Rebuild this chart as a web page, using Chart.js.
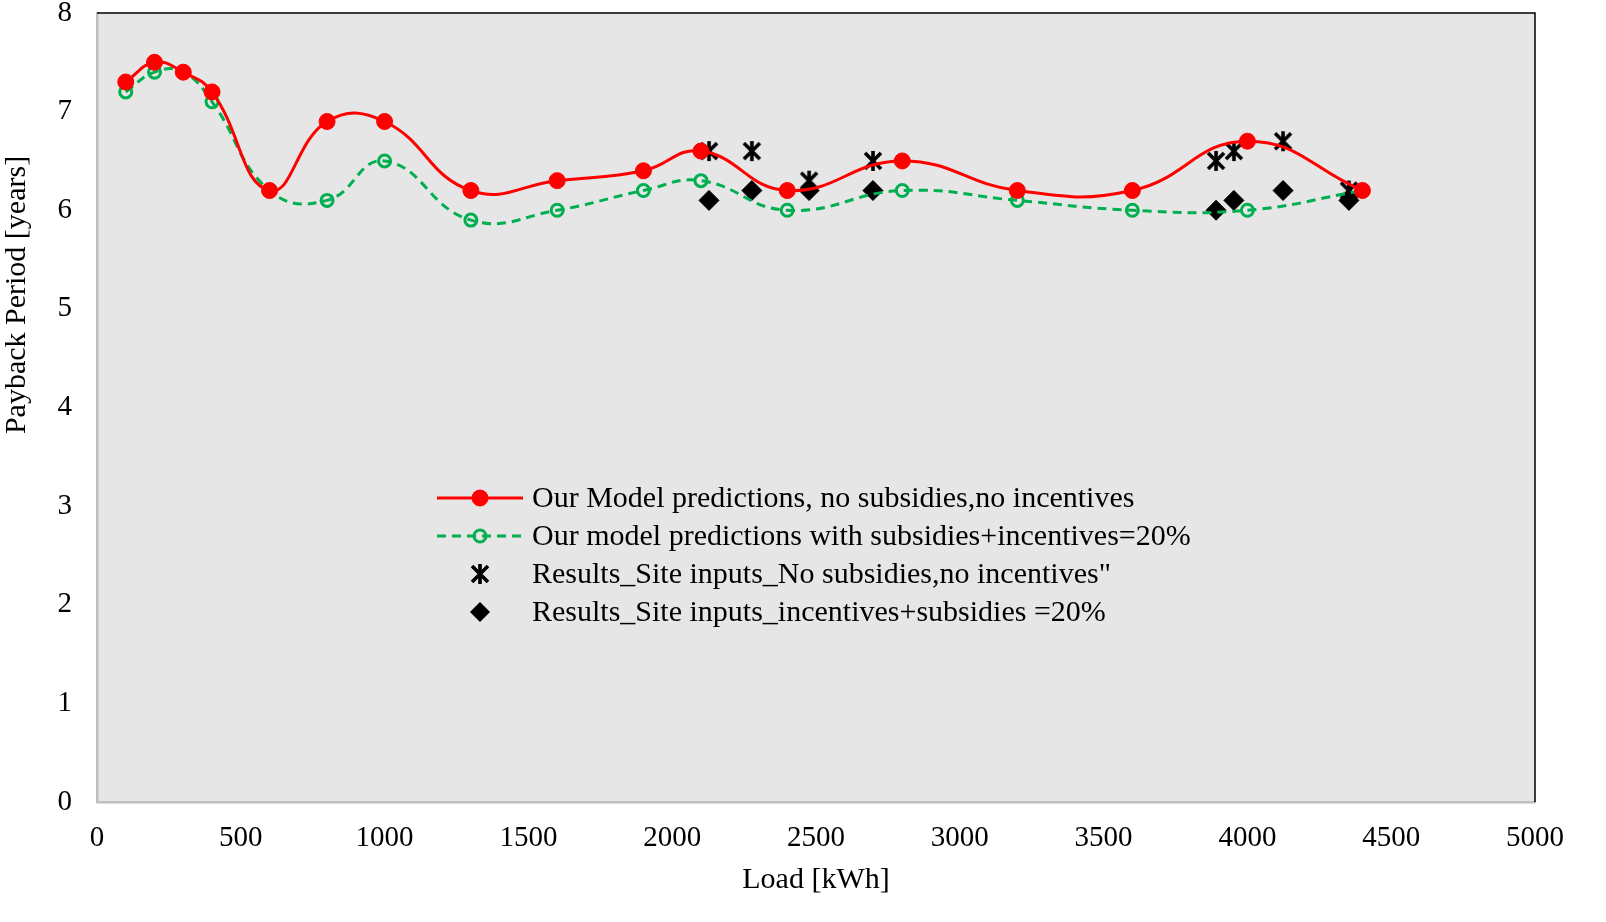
<!DOCTYPE html>
<html>
<head>
<meta charset="utf-8">
<script src="https://cdn.jsdelivr.net/npm/chart.js@4/dist/chart.umd.min.js"></script>
<style>
  html, body { margin: 0; background: #fff; }
  #wrap { width: 1606px; height: 922px; }
</style>
</head>
<body>
<div id="wrap"><canvas id="payback"></canvas></div>
<script>
// Model curve loads and payback values
const modelLoads = [100, 200, 300, 400, 600, 800, 1000, 1300, 1600, 1900, 2100, 2400, 2800, 3200, 3600, 4000, 4400];
const modelNoSubsidy = [7.3, 7.5, 7.4, 7.2, 6.2, 6.9, 6.9, 6.2, 6.3, 6.4, 6.6, 6.2, 6.5, 6.2, 6.2, 6.7, 6.2];
const modelWithSubsidy = [7.2, 7.4, 7.4, 7.1, 6.2, 6.1, 6.5, 5.9, 6.0, 6.2, 6.3, 6.0, 6.2, 6.1, 6.0, 6.0, 6.2];

// Site results
const siteLoads = [2128, 2277, 2476, 2698, 3891, 3953, 4124, 4353];
const siteNoSubsidy = [6.6, 6.6, 6.3, 6.5, 6.5, 6.6, 6.7, 6.2];
const siteWithSubsidy = [6.1, 6.2, 6.2, 6.2, 6.0, 6.1, 6.2, 6.1];

const legendLabels = [
  "Our Model predictions, no subsidies,no incentives",
  "Our model predictions with subsidies+incentives=20%",
  "Results_Site inputs_No subsidies,no incentives\"",
  "Results_Site inputs_incentives+subsidies =20%",
];
const yTitle = "Payback Period [years]";

const FONT = "'Liberation Serif', 'Times New Roman', serif";

function toXY(xs, ys) {
  return xs.map((x, i) => ({ x: x, y: ys[i] }));
}

// asterisk marker: X with a vertical bar
function asteriskMarker(size) {
  const c = document.createElement("canvas");
  c.width = size;
  c.height = size;
  const g = c.getContext("2d");
  g.strokeStyle = "#000";
  g.lineWidth = 3.6;
  const p = 3, m = size / 2;
  g.beginPath();
  g.moveTo(p, p); g.lineTo(size - p, size - p);
  g.moveTo(size - p, p); g.lineTo(p, size - p);
  g.moveTo(m, 1); g.lineTo(m, size - 1);
  g.stroke();
  return c;
}
const asterisk = asteriskMarker(22);

// plot area fill + top/right frame + y title (sits above centre, like Excel)
const plotFrame = {
  id: "plotFrame",
  beforeDraw(chart) {
    const { ctx, chartArea: a } = chart;
    ctx.save();
    ctx.fillStyle = "#e6e6e6";
    ctx.fillRect(a.left, a.top, a.right - a.left, a.bottom - a.top);
    ctx.restore();
  },
  afterDraw(chart) {
    const { ctx, chartArea: a } = chart;
    ctx.save();
    ctx.strokeStyle = "#000";
    ctx.lineWidth = 1.5;
    ctx.beginPath();
    ctx.moveTo(a.left, a.top);
    ctx.lineTo(a.right, a.top);
    ctx.lineTo(a.right, a.bottom);
    ctx.stroke();

    ctx.translate(17, a.top + 282);
    ctx.rotate(-Math.PI / 2);
    ctx.fillStyle = "#000";
    ctx.font = "30px " + FONT;
    ctx.textAlign = "center";
    ctx.textBaseline = "middle";
    ctx.fillText(yTitle, 0, 0);
    ctx.restore();
  },
};

// legend drawn inside the plot, Excel-like
const innerLegend = {
  id: "innerLegend",
  afterDatasetsDraw(chart) {
    const { ctx, chartArea: a } = chart;
    const x0 = a.left + 340, y0 = a.top + 485, rowH = 38;
    ctx.save();
    chart.data.datasets.forEach((ds, i) => {
      const y = y0 + i * rowH;
      const mx = x0 + 43;
      if (ds.showLine) {
        ctx.strokeStyle = ds.borderColor;
        ctx.lineWidth = ds.borderWidth;
        ctx.setLineDash(ds.borderDash || []);
        ctx.beginPath();
        ctx.moveTo(x0, y);
        ctx.lineTo(x0 + 86, y);
        ctx.stroke();
        ctx.setLineDash([]);
      }
      if (ds.pointStyle === "circle") {
        ctx.beginPath();
        ctx.arc(mx, y, ds.pointRadius, 0, Math.PI * 2);
        if (ds.pointBackgroundColor !== "transparent") {
          ctx.fillStyle = ds.pointBackgroundColor;
          ctx.fill();
        }
        ctx.lineWidth = ds.pointBorderWidth;
        ctx.strokeStyle = ds.pointBorderColor;
        ctx.stroke();
      } else if (ds.pointStyle === "rectRot") {
        const r = ds.pointRadius;
        ctx.fillStyle = ds.pointBackgroundColor;
        ctx.beginPath();
        ctx.moveTo(mx, y - r); ctx.lineTo(mx + r, y);
        ctx.lineTo(mx, y + r); ctx.lineTo(mx - r, y);
        ctx.closePath();
        ctx.fill();
      } else {
        const s = ds.pointStyle;
        ctx.drawImage(s, mx - s.width / 2, y - s.height / 2);
      }
      ctx.fillStyle = "#000";
      ctx.font = "30px " + FONT;
      ctx.textBaseline = "middle";
      ctx.fillText(legendLabels[i], x0 + 95, y + 1);
    });
    ctx.restore();
  },
};

new Chart(document.getElementById("payback"), {
  type: "scatter",
  data: {
    datasets: [
      {
        data: toXY(modelLoads, modelNoSubsidy),
        showLine: true,
        borderColor: "#ff0000",
        borderWidth: 3,
        tension: 0.45,
        pointStyle: "circle",
        pointRadius: 8,
        pointBackgroundColor: "#ff0000",
        pointBorderColor: "#ff0000",
        pointBorderWidth: 1,
      },
      {
        data: toXY(modelLoads, modelWithSubsidy),
        showLine: true,
        borderColor: "#00b050",
        borderWidth: 3,
        borderDash: [9, 6],
        tension: 0.45,
        pointStyle: "circle",
        pointRadius: 6,
        pointBackgroundColor: "transparent",
        pointBorderColor: "#00b050",
        pointBorderWidth: 3,
      },
      {
        data: toXY(siteLoads, siteNoSubsidy),
        showLine: false,
        pointStyle: asterisk,
        pointRadius: 11,
      },
      {
        data: toXY(siteLoads, siteWithSubsidy),
        showLine: false,
        pointStyle: "rectRot",
        pointRadius: 10,
        pointBackgroundColor: "#000",
        pointBorderColor: "#000",
        pointBorderWidth: 1,
      },
    ],
  },
  options: {
    responsive: true,
    maintainAspectRatio: false,
    animation: false,
    layout: { padding: { top: 13, right: 71, left: 0, bottom: 0 } },
    plugins: {
      legend: { display: false },
      tooltip: { enabled: false },
    },
    scales: {
      x: {
        type: "linear",
        min: 0,
        max: 5000,
        afterFit(s) {
          s.height = 120;
          s.paddingLeft = 0;
          s.paddingRight = 0;
        },
        ticks: {
          stepSize: 500,
          color: "#000",
          padding: 19,
          font: { family: FONT, size: 29 },
          callback: (v) => String(v),
        },
        grid: { display: false, drawTicks: false },
        border: { color: "#bfbfbf", width: 2.5 },
        title: {
          display: true,
          text: "Load [kWh]",
          color: "#000",
          font: { family: FONT, size: 30, lineHeight: 1 },
          padding: { top: 0, bottom: 27 },
        },
      },
      y: {
        min: 0,
        max: 8,
        afterFit(s) {
          s.width = 97;
          s.paddingTop = 0;
          s.paddingBottom = 0;
        },
        ticks: {
          stepSize: 1,
          color: "#000",
          padding: 25,
          font: { family: FONT, size: 29 },
        },
        grid: { display: false, drawTicks: false },
        border: { color: "#bfbfbf", width: 2.5 },
        title: { display: false },
      },
    },
  },
  plugins: [plotFrame, innerLegend],
});
</script>
</body>
</html>
